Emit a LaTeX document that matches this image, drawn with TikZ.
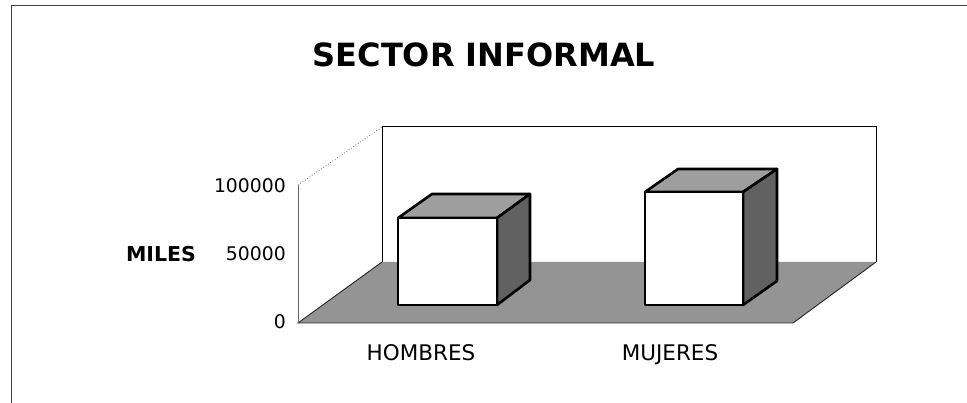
\documentclass[tikz,border=0pt]{standalone}
\usepackage{fontspec}
\setmainfont{DejaVu Sans}
\begin{document}
\begin{tikzpicture}[x=1pt,y=-1pt,
  frame/.style={draw=black!75,line width=0.8pt},
  wall/.style={draw=black,line width=1pt},
  front/.style={fill=white,draw=black,line width=2.6pt,line join=round},
  topface/.style={fill=black!38,draw=black,line width=2.6pt,line join=round},
  sideface/.style={fill=black!62,draw=black,line width=2.6pt,line join=round},
  ticklbl/.style={anchor=base east,inner sep=0pt,font=\fontsize{18.8}{18}\selectfont},
  catlbl/.style={anchor=base,inner sep=0pt,font=\fontsize{21.5}{21}\selectfont}]
\useasboundingbox (0,0) rectangle (967,403);
% outer frame
\coordinate (fTL) at (11,5);
\coordinate (fTR) at (967,5);
\coordinate (fBL) at (11,403);
\draw[frame] (fTR) -- (fTL) -- (fBL);
% title
\node[anchor=base,font=\fontsize{32}{32}\selectfont\bfseries,inner sep=0pt] (title) at (484,67) {SECTOR INFORMAL};
% floor
\coordinate (flFL) at (298,323);
\coordinate (flBL) at (382,262);
\coordinate (flBR) at (876,262);
\coordinate (flFR) at (793,323);
\fill[black!42] (flFL) -- (flBL) -- (flBR) -- (flFR) -- cycle;
\draw[black!85,line width=0.9pt] (flBL) -- (flFL) -- (flFR) -- (flBR);
% back wall
\coordinate (bwTL) at (382,127);
\coordinate (bwTR) at (876,127);
\draw[wall] (flBL) -- (bwTL) -- (bwTR) -- (flBR);
% side wall
\coordinate (axTop) at (298,185);
\draw[black!60,line width=0.8pt] (flFL) -- (axTop);
\draw[black!55,line width=0.8pt,dotted] (axTop) -- (bwTL);
% axis labels
\node[ticklbl] (t100) at (286,193) {100000};
\node[ticklbl] (t50) at (286,261) {50000};
\node[ticklbl] (t0) at (286,329) {0};
\node[anchor=base,inner sep=0pt,font=\fontsize{20.5}{20}\selectfont\bfseries] (miles) at (161,262) {MILES};
% bar 1: HOMBRES
\coordinate (aFTL) at (398,218);
\coordinate (aFTR) at (497,218);
\coordinate (aFBL) at (398,305);
\coordinate (aFBR) at (497,305);
\coordinate (aBTL) at (432,194);
\coordinate (aBTR) at (530,194);
\coordinate (aBBR) at (530,280);
\filldraw[topface] (aFTL) -- (aBTL) -- (aBTR) -- (aFTR) -- cycle;
\filldraw[sideface] (aFTR) -- (aBTR) -- (aBBR) -- (aFBR) -- cycle;
\filldraw[front] (aFTL) rectangle (aFBR);
% bar 2: MUJERES
\coordinate (bFTL) at (645,192);
\coordinate (bFTR) at (743,192);
\coordinate (bFBL) at (645,305);
\coordinate (bFBR) at (743,305);
\coordinate (bBTL) at (678,169);
\coordinate (bBTR) at (777,169);
\coordinate (bBBR) at (777,281);
\filldraw[topface] (bFTL) -- (bBTL) -- (bBTR) -- (bFTR) -- cycle;
\filldraw[sideface] (bFTR) -- (bBTR) -- (bBBR) -- (bFBR) -- cycle;
\filldraw[front] (bFTL) rectangle (bFBR);
% category labels
\node[catlbl] (hom) at (421,361) {HOMBRES};
\node[catlbl] (muj) at (670,361) {MUJERES};
\end{tikzpicture}
\end{document}
